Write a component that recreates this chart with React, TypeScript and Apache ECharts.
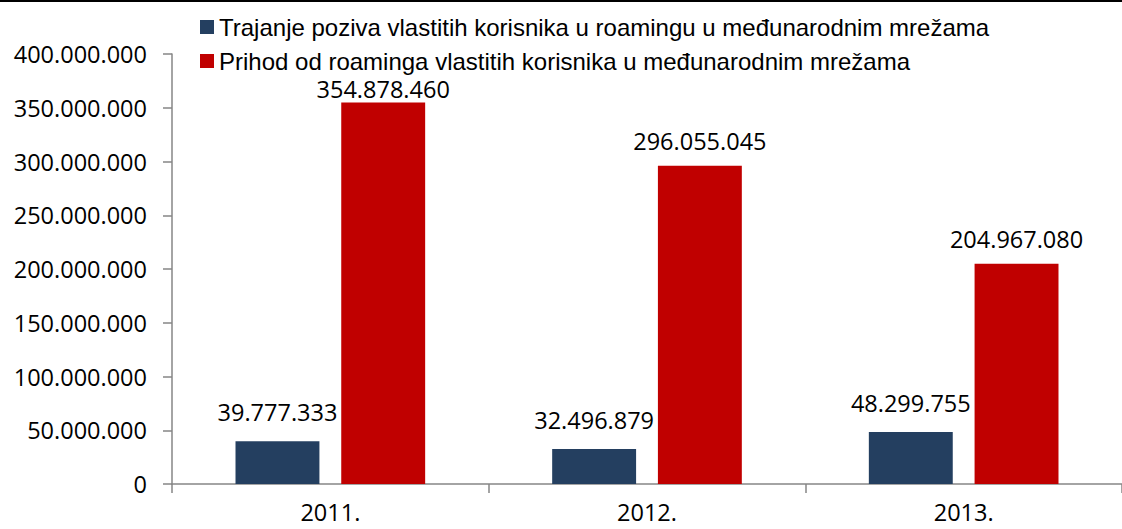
import React, { useEffect, useRef } from "react";
import * as echarts from "echarts";

const categories = ["2011.", "2012.", "2013."];
const seriesNames = [
  "Trajanje poziva vlastitih korisnika u roamingu u međunarodnim mrežama",
  "Prihod od roaminga vlastitih korisnika u međunarodnim mrežama",
];
const trajanje = [39777333, 32496879, 48299755];
const prihod = [354878460, 296055045, 204967080];
const yMin = 0;
const yMax = 400000000;
const yInterval = 50000000;

const fmt = (v: number) => String(Math.round(v)).replace(/\B(?=(\d{3})+(?!\d))/g, ".");

export default function App() {
  const ref = useRef<HTMLDivElement>(null);
  useEffect(() => {
    document.body.style.margin = "0";
    const chart = echarts.init(ref.current!, null, { renderer: "svg" });
    const labelFont = "'Open Sans', sans-serif";
    chart.setOption({
      animation: false,
      backgroundColor: "#ffffff",
      grid: { left: 172, right: -2, top: 54, bottom: 45 },
      legend: {
        orient: "vertical",
        left: 200,
        top: 15,
        padding: 0,
        itemWidth: 14,
        itemHeight: 14,
        itemGap: 10,
        icon: "rect",
        textStyle: {
          fontFamily: "'Liberation Sans', Arial, sans-serif",
          fontSize: 24,
          lineHeight: 24,
          color: "#000",
        },
        data: seriesNames,
      },
      graphic: [
        {
          type: "line",
          shape: { x1: 0, y1: 1, x2: 1122, y2: 1 },
          style: { stroke: "#000", lineWidth: 2 },
        },
      ],
      xAxis: {
        type: "category",
        data: categories,
        axisLine: { lineStyle: { color: "#868686", width: 1.5 } },
        axisTick: { show: true, length: 9, lineStyle: { color: "#868686", width: 1.5 } },
        axisLabel: {
          fontFamily: labelFont,
          fontSize: 23.5,
          lineHeight: 18,
          color: "#000",
          margin: 19,
        },
      },
      yAxis: {
        type: "value",
        min: yMin,
        max: yMax,
        interval: yInterval,
        splitLine: { show: false },
        axisLine: { show: true, lineStyle: { color: "#868686", width: 1.5 } },
        axisTick: { show: true, length: 9, lineStyle: { color: "#868686", width: 1.5 } },
        axisLabel: {
          fontFamily: labelFont,
          fontSize: 23.5,
          color: "#000",
          margin: 25,
          formatter: (v: number) => fmt(v),
        },
      },
      series: [
        {
          name: seriesNames[0],
          type: "bar",
          data: trajanje,
          barWidth: "26.5%",
          barGap: "26%",
          itemStyle: { color: "#243F60" },
          label: {
            show: true,
            position: "top",
            distance: 17,
            fontFamily: labelFont,
            fontSize: 23.5,
            color: "#000",
            formatter: (p: any) => fmt(p.value),
          },
        },
        {
          name: seriesNames[1],
          type: "bar",
          data: prihod.map((v, i) =>
            i === 0 ? { value: v, label: { distance: 5, lineHeight: 18 } } : v
          ),
          barWidth: "26.5%",
          barGap: "26%",
          itemStyle: { color: "#C00000" },
          label: {
            show: true,
            position: "top",
            distance: 13,
            fontFamily: labelFont,
            fontSize: 23.5,
            color: "#000",
            formatter: (p: any) => fmt(p.value),
          },
        },
      ],
    });
    return () => chart.dispose();
  }, []);
  return <div ref={ref} style={{ width: 1122, height: 529 }} />;
}
